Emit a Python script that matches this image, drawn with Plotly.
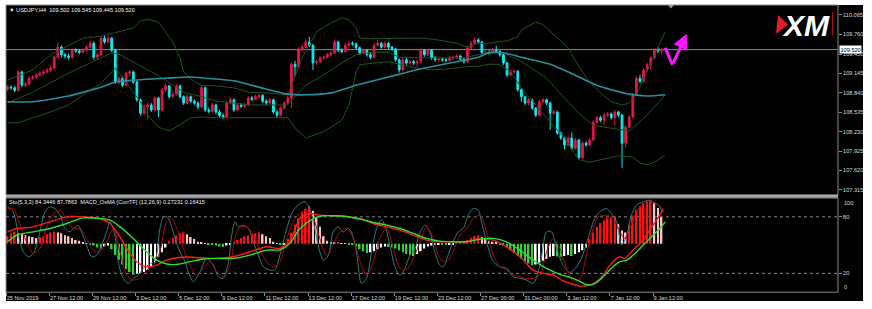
import plotly.graph_objects as go

W, H = 872, 309
FONT = "Liberation Sans"

# ---------------- data ----------------
bar_open = [108.90,108.93,108.92,108.88,109.17,108.96,108.98,109.07,109.09,109.12,
109.15,109.17,109.20,109.23,109.40,109.56,109.44,109.42,109.40,109.51,
109.50,109.48,109.51,109.56,109.62,109.40,109.44,109.70,109.64,109.70,
109.51,109.01,109.07,108.96,109.15,109.17,109.01,108.73,108.52,108.62,
108.65,108.57,108.76,108.57,108.89,108.95,108.78,108.82,108.95,108.78,
108.68,108.78,108.71,108.68,108.62,108.92,108.57,108.55,108.65,108.54,
108.48,108.46,108.68,108.73,108.57,108.65,108.63,108.65,108.76,108.74,
108.78,108.80,108.71,108.68,108.73,108.54,108.49,108.60,108.68,108.76,
109.29,109.25,109.53,109.56,109.64,109.59,109.31,109.33,109.39,109.40,
109.44,109.47,109.64,109.51,109.49,109.59,109.62,109.61,109.55,109.47,
109.51,109.44,109.40,109.59,109.62,109.56,109.62,109.56,109.53,109.36,
109.20,109.36,109.31,109.33,109.31,109.33,109.51,109.44,109.51,109.39,
109.36,109.37,109.36,109.35,109.39,109.40,109.42,109.37,109.33,109.55,
109.62,109.67,109.64,109.47,109.48,109.47,109.51,109.49,109.44,109.31,
109.12,109.17,109.18,108.89,108.78,108.68,108.73,108.60,108.49,108.70,
108.73,108.68,108.52,108.54,108.21,108.13,108.02,108.13,107.97,108.10,
107.82,108.05,108.02,108.10,108.38,108.45,108.41,108.49,108.51,108.45,
108.54,108.49,108.05,108.30,108.46,108.81,109.07,109.02,109.20,109.28,
109.39,109.51,109.502]
bar_close = [108.93,108.92,108.88,109.17,108.96,108.98,109.07,109.09,109.12,109.15,
109.17,109.20,109.23,109.40,109.56,109.44,109.42,109.40,109.51,109.50,
109.48,109.51,109.56,109.62,109.40,109.44,109.70,109.64,109.70,109.51,
109.01,109.07,108.96,109.15,109.17,109.01,108.73,108.52,108.62,108.65,
108.57,108.76,108.57,108.89,108.95,108.78,108.82,108.95,108.78,108.68,
108.78,108.71,108.68,108.62,108.92,108.57,108.55,108.65,108.54,108.48,
108.46,108.68,108.73,108.57,108.65,108.63,108.65,108.76,108.74,108.78,
108.80,108.71,108.68,108.73,108.54,108.49,108.60,108.68,108.76,109.29,
109.25,109.53,109.56,109.64,109.59,109.31,109.33,109.39,109.40,109.44,
109.47,109.64,109.51,109.49,109.59,109.62,109.61,109.55,109.47,109.51,
109.44,109.40,109.59,109.62,109.56,109.62,109.56,109.53,109.36,109.20,
109.36,109.31,109.33,109.31,109.33,109.51,109.44,109.51,109.39,109.36,
109.37,109.36,109.35,109.39,109.40,109.42,109.37,109.33,109.55,109.62,
109.67,109.64,109.47,109.48,109.47,109.51,109.49,109.44,109.31,109.12,
109.17,109.18,108.89,108.78,108.68,108.73,108.60,108.49,108.70,108.73,
108.68,108.52,108.54,108.21,108.13,108.02,108.13,107.97,108.10,107.82,
108.05,108.02,108.10,108.38,108.45,108.41,108.49,108.51,108.45,108.54,
108.49,108.05,108.30,108.46,108.81,109.07,109.02,109.20,109.28,109.39,
109.51,109.502,109.520]
bar_high = [108.96,108.96,108.95,109.20,109.19,109.01,109.10,109.12,109.15,109.18,
109.20,109.23,109.27,109.43,109.63,109.59,109.47,109.46,109.54,109.54,
109.53,109.54,109.59,109.66,109.65,109.47,109.73,109.75,109.74,109.72,
109.53,109.10,109.10,109.18,109.20,109.19,109.03,108.75,108.66,108.69,
108.68,108.79,108.78,108.92,108.99,108.97,108.86,108.98,108.97,108.80,
108.81,108.80,108.74,108.71,108.96,108.94,108.61,108.68,108.67,108.57,
108.52,108.71,108.77,108.75,108.68,108.68,108.68,108.79,108.79,108.81,
108.83,108.82,108.74,108.76,108.75,108.57,108.63,108.71,108.80,109.32,
109.34,109.56,109.60,109.68,109.72,109.61,109.36,109.42,109.43,109.47,
109.50,109.67,109.66,109.54,109.62,109.65,109.65,109.63,109.57,109.54,
109.53,109.47,109.62,109.67,109.64,109.65,109.64,109.58,109.55,109.38,
109.39,109.39,109.36,109.36,109.36,109.54,109.53,109.54,109.53,109.42,
109.40,109.40,109.39,109.42,109.43,109.45,109.44,109.40,109.58,109.65,
109.71,109.70,109.66,109.51,109.51,109.55,109.58,109.51,109.46,109.33,
109.20,109.21,109.20,108.91,108.80,108.76,108.75,108.62,108.73,108.76,
108.75,108.70,108.57,108.56,108.23,108.15,108.16,108.22,108.13,108.12,
108.08,108.08,108.13,108.41,108.48,108.48,108.52,108.54,108.53,108.57,
108.56,108.51,108.33,108.49,108.84,109.10,109.12,109.23,109.31,109.42,
109.54,109.56,109.545]
bar_low = [108.87,108.89,108.85,108.86,108.93,108.93,108.96,109.04,109.06,109.10,
109.12,109.14,109.17,109.21,109.38,109.40,109.38,109.36,109.38,109.47,
109.45,109.46,109.49,109.54,109.36,109.37,109.42,109.61,109.62,109.48,
108.98,108.97,108.93,108.94,109.10,108.98,108.70,108.48,108.49,108.42,
108.54,108.55,108.46,108.55,108.86,108.75,108.75,108.80,108.75,108.65,
108.66,108.68,108.65,108.58,108.60,108.54,108.52,108.53,108.50,108.45,
108.43,108.44,108.65,108.54,108.55,108.60,108.60,108.63,108.71,108.72,
108.75,108.68,108.65,108.66,108.51,108.46,108.47,108.58,108.66,108.60,
109.10,109.22,109.50,109.54,109.56,109.20,109.28,109.31,109.36,109.38,
109.42,109.45,109.48,109.46,109.47,109.57,109.58,109.52,109.44,109.45,
109.41,109.37,109.38,109.57,109.53,109.54,109.53,109.50,109.33,109.16,
109.18,109.28,109.28,109.28,109.25,109.31,109.41,109.42,109.36,109.33,
109.33,109.33,109.32,109.33,109.36,109.38,109.34,109.30,109.31,109.53,
109.60,109.61,109.44,109.44,109.44,109.45,109.46,109.41,109.28,109.09,
109.10,109.14,108.86,108.70,108.65,108.65,108.57,108.46,108.47,108.68,
108.65,108.26,108.49,108.18,108.10,107.95,108.00,107.94,107.95,107.79,
107.80,107.99,108.00,108.08,108.36,108.38,108.33,108.46,108.42,108.33,
108.46,107.66,107.98,108.28,108.44,108.79,108.99,109.00,109.17,109.20,
109.37,109.47,109.445]

upper_x = [0,7,12,17,21,26,31,35,37,39,42,44,46,48,49,52,54,58,63,67,72,78,82,86,90,93,95,97,98,102,108,111,116,120,125,128,131,134,139,142,143,147,149,153,156,159,162,165,168,171,173,175,178,181,183]
upper_p = [109.04,109.20,109.44,109.59,109.70,109.73,109.80,109.86,109.97,110.00,109.95,109.80,109.64,109.39,109.17,109.01,108.96,108.95,108.92,108.85,108.84,108.81,109.39,109.80,109.94,110.02,109.99,109.86,109.70,109.69,109.70,109.70,109.70,109.67,109.62,109.56,109.62,109.62,109.66,109.72,109.83,109.95,109.91,109.70,109.55,109.25,109.01,108.84,108.70,108.65,108.68,108.81,109.17,109.55,109.80]
middle_x = [0,7,17,24,29,31,35,40,44,49,54,58,63,67,72,78,83,88,93,97,102,106,109,114,118,123,127,131,134,138,142,145,150,155,159,163,167,170,173,178,181,183]
middle_p = [108.68,108.85,109.15,109.33,109.47,109.45,109.33,109.17,109.04,108.85,108.78,108.71,108.68,108.65,108.65,108.65,108.96,109.12,109.31,109.44,109.48,109.48,109.40,109.39,109.39,109.39,109.39,109.44,109.48,109.47,109.36,109.26,109.07,108.76,108.52,108.33,108.29,108.27,108.24,108.49,108.68,108.81]
lower_x = [0,3,5,12,17,21,26,29,30,37,39,42,45,48,51,54,58,63,67,72,78,79,80,83,88,93,95,97,98,102,106,110,114,118,123,127,131,134,137,140,143,147,151,155,158,159,162,165,168,170,174,176,178,180,183]
lower_p = [108.37,108.37,108.41,108.54,108.65,108.81,108.99,109.17,109.23,108.70,108.49,108.30,108.24,108.34,108.45,108.46,108.45,108.45,108.45,108.45,108.45,108.37,108.29,108.13,108.23,108.41,108.65,109.17,109.28,109.31,109.33,109.28,109.23,109.20,109.22,109.25,109.26,109.29,109.29,109.17,108.92,108.65,108.38,108.13,107.86,107.79,107.75,107.79,107.83,107.85,107.83,107.74,107.71,107.75,107.86]
ma_x = [0,7,12,17,21,26,30,35,44,51,55,63,70,78,83,90,97,106,116,125,131,134,138,143,151,159,164,168,173,178,183]
ma_p = [108.70,108.70,108.74,108.79,108.85,108.93,109.01,109.04,109.07,109.09,109.07,109.03,108.93,108.82,108.81,108.84,108.96,109.09,109.23,109.33,109.40,109.47,109.47,109.40,109.29,109.09,108.96,108.89,108.82,108.79,108.81]

osma = [8,11,13,11,10,9,8,7,6,7,
8,10,12,13,12,11,9,8,6,4,
3,1,0.5,-1,-2,-4,-5,-3,-2,-6,
-12,-17,-22,-27,-30,-33,-32,-31,-30,-28,
-25,-20,-14,-9,-4,3,6,9,11,12,
10,7,5,2,1,0.5,-1,-1.2,-2,-3,
-3.5,-2,-1,2,4,6,8,9,10,11,
12,10,8,6,2,0.5,-1,-0.5,5,12,
20,27,33,37,40,35,28,18,8,3,
1.5,1,1.2,0.5,0.3,-1,-1.5,-3,-6,-8,
-10,-9,-8,-6,-4,-3,-3.5,-4,-5,-7,
-9,-11,-12,-13,-11,-8,-5,-3,-2,-1,
-0.5,-1,-1.2,-0.8,-0.5,0.5,1,2,4,6,
8,9,7,5,3,2,1,-1,-2,-4,
-7,-10,-13,-16,-19,-21,-23,-22,-20,-18,
-16,-14,-13,-13.5,-14,-13,-12,-13,-11,-9,
-7,-4,5,12,18,22,25,27,28,29,
21,14,12,20,30,36,40,43,45,46,
43,38,28]
osma_zero = 51.5

sto_main_x = [0,1.6,3,4.4,5.8,7.2,8.6,10.4,11.8,13.2,14.6,16,17.4,18.3,19.7,20.6,22,23.4,24.8,26.2,27.6,28.5,29.9,30.8,32.2,33.6,35,36.4,37.8,39.2,40.6,41.5,42.4,43.4,44.3,45.2,46.6,48,49.4,50.3,51.7,53.6,55.4,57.3,58.7,60,61.5,62.4,63.3,64.2,65.6,67,68.4,69.8,71.2,73,74.4,75.8,77.7,79.3,81.4,82.8,84.1,85.5,86.9,87.9,89.3,90.6,92,93.4,94.8,95.7,97.1,98.5,99.9,101.3,102.7,104.1,105,106.4,107.8,109.2,110.6,112,113.4,114.8,116.2,117.5,118.9,120.3,121.3,122.6,124,125.4,126.8,128.2,129.6,131,131.9,133.3,135.2,137,138.9,140.7,142.6,144.4,146.3,148.2,150,151.4,152.8,154.6,156.5,158,159.3,160.7,162.1,163.4,164.8,166.7,168.1,169.5,170.9,172.3,173.6,175,176.9,178.3,179.7,181.5,182.5]
sto_main_v = [90.6,85.3,60.6,43,37.6,41,57,85,90.6,88.8,81.8,67.6,64,67.6,71,64,50,37.6,39.4,50,64,74.7,60.6,32.4,14.7,9.4,14.7,18.2,25.3,28.8,32.4,39.4,67.6,80,80,74.7,57,43,32.4,21.8,11.2,21.8,36,28.8,16.5,14.7,32.4,60.6,74.7,69.4,71.2,67.6,53.5,39.4,27,23.5,23.5,39.4,67.6,85.3,94.1,95.9,88.8,67.6,42.9,34.1,39.4,64,69.4,64,67.6,64,42.9,9.4,14.7,42.9,67.6,76.5,71.2,50,27,18.2,25.3,39.4,46.5,64,71.2,64,42.9,28.8,27,39.4,53.5,64,67.6,81.8,88.8,87,74.7,53.5,32.4,27,25.3,16.5,14.7,13,9.4,28.8,64,64,46.5,28.8,21,25.3,33,46.5,64,78.2,85.3,88.8,83.5,74.7,50,60.6,81.8,92.4,95.9,97.6,95.9,90.6,84.3]
sto_sig_x = [0,1.6,3.5,5.3,7.2,9,10.9,12.8,14.6,16.5,18.3,20.2,22,23.9,25.7,27.6,29.5,31.3,33.2,35,36.9,38.7,40.6,42.4,44.3,45.7,47.1,48.9,50.8,52.6,54.5,56.4,58.2,60.1,61.9,63.3,64.7,66.6,68.4,70.3,72.1,74,75.8,77.7,79.5,81.4,83.2,85.1,86.9,88.8,90.6,92.5,94.4,96.2,98.1,99.9,101.8,103.6,105.5,107.3,109.2,111,112.9,114.8,116.6,118.5,120.3,122.2,124,125.9,127.7,129.6,131.5,133.3,135.2,137,138.9,140.7,142.6,144.4,146.3,148.2,150,151.9,153.7,155.6,157.4,159.3,161.1,162.5,164.4,166.2,168.1,169.9,171.8,173.2,175,176.9,178.7,180.6,182.5]
sto_sig_v = [88.8,88.8,71.2,53.5,41.2,46.5,69.4,83.5,87,76.5,67.6,67.6,57.1,44.7,42.9,53.5,67.6,42.9,18.2,13,14.7,23.5,28.8,42.9,74.7,78.2,67.6,46.5,28.8,18.2,25.3,32.4,21.8,16.5,28.8,57.1,69.4,69.4,60.6,44.7,32.4,27,32.4,57.1,75,84,87,78.2,57.1,39.4,50,64,67.6,57.1,32.4,18.2,32.4,57.1,67.6,46.5,25.3,23.5,35.9,53.5,69.4,57.1,35.9,32.4,42.9,60.6,67.6,78.2,81.8,64,39.4,27,23.5,18.2,16.5,14.7,14.7,18.2,42.9,57.1,46.5,25.3,12,14,40,62,80,81.8,80,67.6,57.1,67.6,85.3,94.1,96.6,94.1,87.8]
macd_x = [0,2.6,7.2,11.8,16.5,21.1,25.7,28.5,30.4,33.2,35.9,38.7,41.5,44.3,47.1,49.9,53.6,58.2,62.8,67.5,72.1,75.8,78.6,81.4,84.1,86.9,90.6,94.4,98.1,101.8,105.5,109.2,112.9,116.6,120.3,124,127.7,131.5,135.2,138.9,142.6,146.3,149.1,151.9,154.6,157.4,159.3,162,163.9,165.8,167.6,169.5,170.4,171.8,173.2,175,176.9,178.7,180.6,182.5]
macd_v = [64.1,67.6,69.4,74.7,80,80,78.2,72.9,64.1,46.5,32.4,27,28.8,34.1,36.6,37.3,36.6,35.9,37.6,42.9,48.2,46.5,55,78.2,83.5,81.8,81.1,80,78.2,72.9,69.4,65.9,60.6,55.3,53.5,53.5,53.5,57.1,55.3,48.2,37.6,23.5,20,18.2,12,8.5,6.5,7.6,11.2,18.2,28.8,35.9,37.6,35.9,41.2,48.2,55.3,65.9,76.5,88]
sig_x = [0,2.6,7.2,11.8,16.5,21.1,25.7,28.5,31.3,35,38.7,41.5,44.3,47.1,50.8,54.5,58.2,62.8,67.5,72.1,75.8,78.6,81.4,85.1,87.9,90.6,94.4,98.1,101.8,105.5,109.2,112.9,116.6,120.3,124,127.7,131.5,135.2,138.9,142.6,146.3,150,153.7,157.4,159.3,161.1,163,164.8,166.7,168.5,170.4,172.3,174.1,176,177.8,179.7,181.5,183]
sig_v = [53.5,60.6,64.1,67.6,72.9,78.9,78.2,76.5,69.4,57.1,42.9,34.1,29.9,29.5,32.4,35.2,35.9,35.9,39.4,44.7,45,52,67.6,78.2,81.1,81.1,80.4,77.5,74,71.2,67.6,62.4,57.1,54.2,53.5,53.5,56.4,57.1,53.5,44.7,34.1,25.3,19,14.7,11.5,8,8.4,12.9,20,27,32.4,34.1,39.4,46.5,53.5,60.6,67.6,74.7]

time_labels = ["25 Nov 2019", "27 Nov 12:00", "29 Nov 12:00", "3 Dec 12:00", "5 Dec 12:00",
               "9 Dec 12:00", "11 Dec 12:00", "13 Dec 12:00", "17 Dec 12:00", "19 Dec 12:00",
               "23 Dec 12:00", "27 Dec 00:00", "31 Dec 00:00", "3 Jan 12:00", "7 Jan 12:00", "9 Jan 12:00"]
bars_per_label = 12
price_ticks = [110.065, 109.760, 109.450, 109.145, 108.840, 108.535, 108.230, 107.925, 107.620, 107.315]
last_price = 109.520
sto_levels = [80, 20]
header_text = "\u25bc USDJPY,H4  109.502 109.545 109.445 109.520"
sub_header_text = "Sto(5,3,3) 84.3446 87.7863  MACD_OsMA [CurrTF] (12,26,9) 0.27231 0.16415"
arrow_x = [183, 185, 189]
arrow_p = [109.55, 109.28, 109.77]

# ---------------- styles ----------------
UP, DN = "#e2174a", "#11eaf0"
BAND, MA_C = "#1c561c", "#2a8f9c"
STO_MAIN, STO_SIG = "#2b7d80", "#a80c0c"
MACD_C, SIG_C = "#ff1a1a", "#2ee02e"
H_RED, H_PINK, H_GREEN, H_WHITE = "#ff1010", "#f8c4c8", "#36cc36", "#ffffff"
TXT, AX, MAG = "#dcdcdc", "#8c8c8c", "#ff14ff"


def fx(p):
    return p / W


def fy(p):
    return 1 - p / H


n = len(bar_close)
bar_idx = list(range(n))

fig = go.Figure()
fig.add_trace(go.Candlestick(
    x=bar_idx, open=bar_open, high=bar_high, low=bar_low, close=bar_close,
    increasing=dict(line=dict(color=UP, width=1), fillcolor=UP),
    decreasing=dict(line=dict(color=DN, width=1), fillcolor=DN),
    whiskerwidth=0, hoverinfo="skip", xaxis="x", yaxis="y"))
for xs, ys in ((upper_x, upper_p), (middle_x, middle_p), (lower_x, lower_p)):
    fig.add_trace(go.Scatter(x=xs, y=ys, mode="lines", line=dict(color=BAND, width=1),
                             hoverinfo="skip", xaxis="x", yaxis="y"))
fig.add_trace(go.Scatter(x=ma_x, y=ma_p, mode="lines",
                         line=dict(color=MA_C, width=1.6, shape="spline", smoothing=0.7),
                         hoverinfo="skip", xaxis="x", yaxis="y"))
fig.add_trace(go.Scatter(x=arrow_x[:2], y=arrow_p[:2], mode="lines",
                         line=dict(color=MAG, width=3), hoverinfo="skip", xaxis="x", yaxis="y"))

# lower window
fig.add_trace(go.Scatter(x=sto_main_x, y=sto_main_v, mode="lines",
                         line=dict(color=STO_MAIN, width=1, shape="spline", smoothing=0.8),
                         hoverinfo="skip", xaxis="x2", yaxis="y2"))
fig.add_trace(go.Scatter(x=sto_sig_x, y=sto_sig_v, mode="lines",
                         line=dict(color=STO_SIG, width=1, shape="spline", smoothing=0.8),
                         hoverinfo="skip", xaxis="x2", yaxis="y2"))
hist_colors = []
for i, v in enumerate(osma):
    prev = osma[i - 1] if i > 0 else v
    if v >= 0:
        hist_colors.append(H_RED if v >= prev else H_PINK)
    else:
        hist_colors.append(H_GREEN if v <= prev else H_WHITE)
fig.add_trace(go.Bar(x=bar_idx, y=osma, base=osma_zero, width=0.45,
                     marker=dict(color=hist_colors, line=dict(width=0)),
                     hoverinfo="skip", xaxis="x2", yaxis="y2"))
fig.add_trace(go.Scatter(x=macd_x, y=macd_v, mode="lines",
                         line=dict(color=MACD_C, width=1.4, shape="spline", smoothing=0.8),
                         hoverinfo="skip", xaxis="x2", yaxis="y2"))
fig.add_trace(go.Scatter(x=sig_x, y=sig_v, mode="lines",
                         line=dict(color=SIG_C, width=1.4, shape="spline", smoothing=0.8),
                         hoverinfo="skip", xaxis="x2", yaxis="y2"))

x_range = [-0.42, 231.1]
tick_font = dict(family=FONT, size=5.6, color=TXT)
fig.update_layout(
    width=W, height=H, margin=dict(l=0, r=0, t=0, b=0),
    paper_bgcolor="white", plot_bgcolor="black", showlegend=False, hovermode=False,
    xaxis=dict(domain=[fx(6), fx(838)], range=x_range, showticklabels=False, showgrid=False,
               zeroline=False, showline=False, ticks="", anchor="y",
               rangeslider=dict(visible=False), fixedrange=True),
    yaxis=dict(domain=[fy(195), fy(5)], range=[107.2346, 110.2214], side="right",
               tickvals=price_ticks, ticktext=[f"{v:.3f}" for v in price_ticks],
               tickfont=tick_font, ticks="outside", ticklen=3, tickcolor=AX,
               showgrid=False, zeroline=False, showline=False, anchor="x", fixedrange=True),
    xaxis2=dict(domain=[fx(6), fx(838)], range=x_range, anchor="y2",
                tickvals=[k * bars_per_label - 0.35 for k in range(len(time_labels))],
                ticktext=time_labels, ticklabelposition="outside right",
                tickfont=tick_font, ticks="outside", ticklen=3, tickcolor=AX,
                showgrid=False, zeroline=False, showline=False, fixedrange=True),
    yaxis2=dict(domain=[fy(292.2), fy(198)], range=[0, 100], side="right",
                tickvals=sto_levels, ticktext=[str(v) for v in sto_levels],
                tickfont=tick_font, ticks="outside", ticklen=3, tickcolor=AX,
                showgrid=False, zeroline=False, showline=False, anchor="x2", fixedrange=True),
)

shapes = [
    dict(type="rect", xref="paper", yref="paper", x0=fx(6), x1=fx(863), y0=fy(301), y1=fy(5),
         fillcolor="black", line=dict(width=0), layer="below"),
    dict(type="line", xref="paper", yref="y", x0=fx(6), x1=fx(838), y0=last_price, y1=last_price,
         line=dict(color=AX, width=1), layer="below"),
    dict(type="rect", xref="paper", yref="paper", x0=fx(6), x1=fx(838), y0=fy(195), y1=fy(5),
         line=dict(color=AX, width=1)),
    dict(type="rect", xref="paper", yref="paper", x0=fx(6), x1=fx(838), y0=fy(197.8), y1=fy(194.8),
         fillcolor="#a8a8a8", line=dict(width=0)),
    dict(type="rect", xref="paper", yref="paper", x0=fx(6), x1=fx(838), y0=fy(292.2), y1=fy(198),
         line=dict(color=AX, width=1)),
    dict(type="path", xref="paper", yref="paper",
         path=f"M {fx(668)},{fy(5)} L {fx(674)},{fy(5)} L {fx(671)},{fy(8.5)} Z",
         fillcolor="#9a9a9a", line=dict(width=0)),
    # XM logo red wedge and divider
    dict(type="path", xref="paper", yref="paper",
         path=f"M {fx(778)},{fy(15)} L {fx(788)},{fy(24.5)} L {fx(776)},{fy(34)} Z",
         fillcolor="#e8192c", line=dict(width=0)),
    dict(type="line", xref="paper", yref="paper", x0=fx(832.5), x1=fx(832.5), y0=fy(35), y1=fy(12),
         line=dict(color="#a01818", width=1)),
]
for lvl in sto_levels:
    shapes.append(dict(type="line", xref="paper", yref="y2", x0=fx(6), x1=fx(838), y0=lvl, y1=lvl,
                       line=dict(color="#8a8a8a", width=1, dash="dot"), layer="below"))
fig.update_layout(shapes=shapes)

ann = [
    dict(xref="paper", yref="paper", x=fx(7), y=fy(10), text=header_text, showarrow=False,
         xanchor="left", yanchor="middle", font=dict(family=FONT, size=5.6, color="#f0f0f0")),
    dict(xref="paper", yref="paper", x=fx(7), y=fy(201.5), text=sub_header_text, showarrow=False,
         xanchor="left", yanchor="middle", font=dict(family=FONT, size=5.6, color="#f0f0f0")),
    dict(xref="paper", yref="paper", x=fx(806), y=fy(25), text="<b><i>XM</i></b>", showarrow=False,
         xanchor="center", yanchor="middle", font=dict(family=FONT, size=30, color="white")),
    dict(xref="paper", yref="y", x=fx(838.5), y=last_price, text=f"{last_price:.3f}", showarrow=False,
         xanchor="left", yanchor="middle", bgcolor="white", borderpad=0.5,
         font=dict(family=FONT, size=5.6, color="black")),
    dict(xref="paper", yref="y2", x=fx(842), y=100, text="100", showarrow=False,
         xanchor="left", yanchor="top", font=tick_font),
    dict(xref="paper", yref="y2", x=fx(842), y=0, text="0", showarrow=False,
         xanchor="left", yanchor="bottom", font=tick_font),
    dict(xref="x", yref="y", axref="x", ayref="y", x=arrow_x[2], y=arrow_p[2],
         ax=arrow_x[1], ay=arrow_p[1], text="", showarrow=True, arrowhead=2,
         arrowsize=1, arrowwidth=3, arrowcolor=MAG),
]
fig.update_layout(annotations=ann)

fig.write_html("out.html")
